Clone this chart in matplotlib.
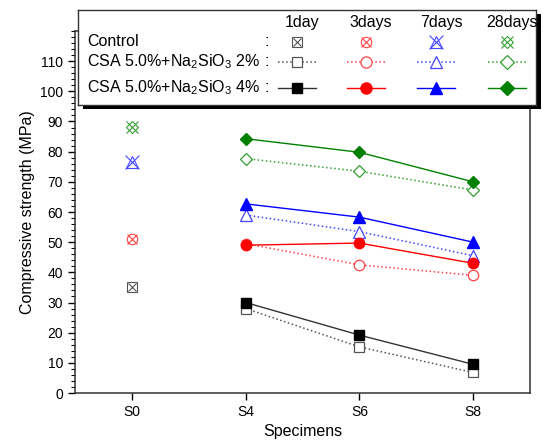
import matplotlib
matplotlib.use("Agg")
import matplotlib.pyplot as plt
from matplotlib.patches import Rectangle
from matplotlib.ticker import MultipleLocator

plt.rcParams["font.family"] = ["Liberation Sans", "DejaVu Sans"]
plt.rcParams["mathtext.default"] = "regular"

# ---- data ----
specimens = ["S0", "S4", "S6", "S8"]
ages = ["1day", "3days", "7days", "28days"]
colors = ["#222222", "red", "blue", "green"]
edge_open = ["#555555", "#ff4444", "#4444ff", "#33a033"]

control = [35.0, 51.2, 76.5, 88.3]           # S0 only, per age
na2_2pct = [[28.0, 15.3, 6.8],                # S4, S6, S8 per age
            [49.5, 42.5, 39.0],
            [59.0, 53.5, 45.5],
            [77.7, 73.5, 67.3]]
na2_4pct = [[30.0, 19.2, 9.5],
            [49.0, 49.7, 43.0],
            [62.7, 58.3, 50.0],
            [84.3, 79.8, 70.0]]

markers = ["s", "o", "^", "D"]
ctrl_extra = ["x", "x", "x", "x"]
msizes = [6.5, 7.5, 8, 6.5]
xsizes = [6, 7, 9.5, 9]

W, H = 543, 448
fig = plt.figure(figsize=(W / 100, H / 100), dpi=100)
ax = fig.add_axes([75 / W, 1 - 393 / H, 455 / W, 362 / H])

x_ctrl = [0]
x_mix = [1, 2, 3]

for i in range(4):
    # control: marker with cross overlay
    ax.plot(x_ctrl, [control[i]], linestyle="none", marker=markers[i],
            ms=msizes[i], mfc="none", mec=edge_open[i], mew=0.8, zorder=3)
    ax.plot(x_ctrl, [control[i]], linestyle="none", marker=ctrl_extra[i],
            ms=xsizes[i], mfc="none", mec=edge_open[i], mew=0.8, zorder=3)
    # 2% : open markers, dotted line
    ax.plot(x_mix, na2_2pct[i], linestyle=":", color=edge_open[i], lw=1.1,
            marker=markers[i], ms=msizes[i], mfc="white", mec=edge_open[i],
            mew=0.9, zorder=3)
    # 4% : filled markers, solid line
    lc = "#333333" if i == 0 else colors[i]
    ax.plot(x_mix, na2_4pct[i], linestyle="-", color=lc, lw=1.0,
            marker=markers[i], ms=msizes[i], mfc=colors[i] if i else "black",
            mec=colors[i] if i else "black", zorder=4)

ax.set_xlim(-0.5, 3.5)
ax.set_ylim(0, 120)
ax.set_xticks(range(4))
ax.set_xticklabels(specimens)
ax.set_yticks(range(0, 111, 10))
ax.yaxis.set_minor_locator(MultipleLocator(2))
ax.tick_params(axis="both", direction="out", labelsize=10, length=5, width=1)
ax.tick_params(axis="y", which="minor", direction="out", length=3, width=0.8)
for s in ax.spines.values():
    s.set_linewidth(1.1)
    s.set_color("#333333")
ax.set_xlabel("Specimens", fontsize=11.5)
ax.set_ylabel("Compressive strength (MPa)", fontsize=11.5)

# ---- custom legend (table style) with shadow ----
lx0, ly0, lw_, lh_ = 78, 10, 458, 95
fig.patches.append(Rectangle(((lx0 + 5) / W, 1 - (ly0 + lh_ + 4) / H),
                             lw_ / W, lh_ / H, transform=fig.transFigure,
                             facecolor="black", edgecolor="none", zorder=5))
lg = fig.add_axes([lx0 / W, 1 - (ly0 + lh_) / H, lw_ / W, lh_ / H], zorder=6)
lg.set_xlim(0, lw_)
lg.set_ylim(lh_, 0)
lg.set_xticks([])
lg.set_yticks([])
for s in lg.spines.values():
    s.set_linewidth(1.0)
    s.set_color("#333333")

col_c = [219, 288, 358, 429]
head_y, rows_y = 12, [32, 52, 78]
for c, a in zip(col_c, ages):
    lg.text(c + 5, head_y, a, ha="center", va="center", fontsize=11.5)
row_labels = ["Control",
              "CSA 5.0%+Na$_2$SiO$_3$ 2%",
              "CSA 5.0%+Na$_2$SiO$_3$ 4%"]
for y, t in zip(rows_y, row_labels):
    lg.text(9, y, t, ha="left", va="center", fontsize=11.5)
    lg.text(189, y, ":", ha="center", va="center", fontsize=11.5)

for i, c in enumerate(col_c):
    lg.plot([c], [rows_y[0]], marker=markers[i], ms=msizes[i], mfc="none",
            mec=edge_open[i], mew=0.8, ls="none")
    lg.plot([c], [rows_y[0]], marker=ctrl_extra[i], ms=xsizes[i], mfc="none",
            mec=edge_open[i], mew=0.8, ls="none")
    lg.plot([c - 19, c + 19], [rows_y[1]] * 2, ls=":", color=edge_open[i], lw=1.1)
    lg.plot([c], [rows_y[1]], marker=markers[i], ms=msizes[i] + 0.5, mfc="white",
            mec=edge_open[i], mew=0.9, ls="none")
    lc = "#333333" if i == 0 else colors[i]
    lg.plot([c - 19, c + 19], [rows_y[2]] * 2, ls="-", color=lc, lw=1.0)
    lg.plot([c], [rows_y[2]], marker=markers[i], ms=msizes[i] + 0.5,
            mfc=colors[i] if i else "black", mec=colors[i] if i else "black",
            ls="none")

fig.savefig("out.png", dpi=100)
